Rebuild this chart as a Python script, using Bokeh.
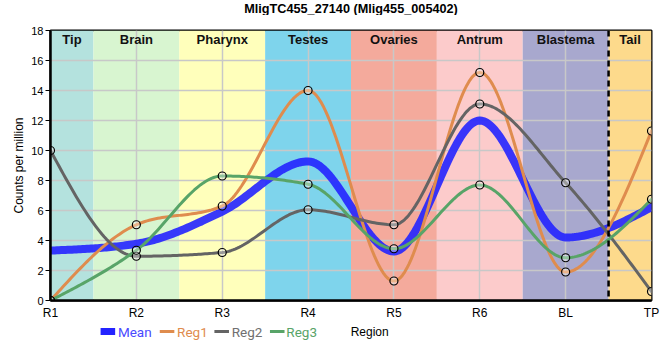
import numpy as np
from bokeh.plotting import figure
from bokeh.layouts import column
from bokeh.models import FixedTicker, Span, Range1d
from bokeh.core.properties import value
from bokeh.embed import file_html
from bokeh.resources import INLINE

# ---- data ----
title_text = "MligTC455_27140 (Mlig455_005402)"
regions = ["R1", "R2", "R3", "R4", "R5", "R6", "BL", "TP"]
mean_vals = [3.33, 3.78, 5.93, 9.27, 3.27, 12.0, 4.2, 6.22]
reg1 = [0.0, 5.05, 6.3, 14.0, 1.3, 15.2, 1.9, 11.3]
reg2 = [10.0, 2.95, 3.2, 6.05, 5.05, 13.1, 7.85, 0.6]
reg3 = [0.0, 3.35, 8.3, 7.75, 3.45, 7.7, 2.85, 6.75]
y_ticks = [0, 2, 4, 6, 8, 10, 12, 14, 16, 18]

band_names = ["Tip", "Brain", "Pharynx", "Testes", "Ovaries", "Antrum", "Blastema", "Tail"]
band_left = [0, 0.5, 1.5, 2.5, 3.5, 4.5, 5.5, 6.5]
band_right = [0.5, 1.5, 2.5, 3.5, 4.5, 5.5, 6.5, 7]
band_colors = ["#b4e2de", "#d8f5d0", "#ffffbb", "#7ed4ec", "#f4aa9c", "#fccbcb", "#a8a8ce", "#fdda8c"]
divider_x = 6.5

series_names = ["Mean", "Reg1", "Reg2", "Reg3"]
series_colors = ["#2323ff", "#df8c4e", "#646464", "#58a468"]
series_widths = [8, 3, 3, 3]
label_colors = ["#4a4aff", "#df8c4e", "#707070", "#58a468"]

X_MIN, X_MAX, Y_MIN, Y_MAX = 0, 7, 0, 18

# strip layout (pixels)
W, H_TITLE, H_MAIN, H_LEG = 660, 15, 307, 38
title_x, title_y = 330, 8
leg_glyph_x0 = [55, 120, 180, 241]
leg_glyph_x1 = [71, 136, 196, 257]
leg_text_x = [74, 139, 199, 259]
leg_glyph_w = [7, 3, 3, 3]
leg_row_y = 9
region_label_x = 350.5


def monotone_curve(xs, ys, n=40):
    xs = np.asarray(xs, float)
    ys = np.asarray(ys, float)
    m = len(xs)
    h = np.diff(xs)
    s = np.diff(ys) / h
    t = np.zeros(m)
    sgn = lambda v: -1.0 if v < 0 else 1.0
    for i in range(1, m - 1):
        s0, s1 = s[i - 1], s[i]
        p_ = (s0 * h[i] + s1 * h[i - 1]) / (h[i - 1] + h[i])
        t[i] = (sgn(s0) + sgn(s1)) * min(abs(s0), abs(s1), 0.5 * abs(p_))
    t[0] = (3 * s[0] - t[1]) / 2
    t[-1] = (3 * s[-1] - t[-2]) / 2
    ox, oy = [], []
    for i in range(m - 1):
        u = np.linspace(0, 1, n, endpoint=(i == m - 2))
        hh = h[i]
        h00 = 2 * u**3 - 3 * u**2 + 1
        h10 = u**3 - 2 * u**2 + u
        h01 = -2 * u**3 + 3 * u**2
        h11 = u**3 - u**2
        ox.extend(xs[i] + u * hh)
        oy.extend(h00 * ys[i] + h10 * hh * t[i] + h01 * ys[i + 1] + h11 * hh * t[i + 1])
    return ox, oy


def strip(height):
    f = figure(width=W, height=height, x_range=Range1d(0, W), y_range=Range1d(height, 0),
               output_backend="svg", toolbar_location=None, x_axis_type=None, y_axis_type=None,
               min_border=0)
    f.outline_line_color = None
    f.grid.visible = False
    return f


# title strip
t = strip(H_TITLE)
t.text(x=[title_x], y=[title_y], text=[title_text], text_color="black",
       text_font=value("Liberation Sans"), text_font_size="12.7px", text_font_style="bold",
       text_baseline="middle", text_align="center")

p = figure(width=W, height=H_MAIN, x_range=Range1d(X_MIN, X_MAX), y_range=Range1d(Y_MIN, Y_MAX),
           output_backend="svg", toolbar_location=None,
           min_border_left=50, min_border_right=9, min_border_top=15, min_border_bottom=22)

p.outline_line_color = "black"
p.outline_line_width = 2
p.outline_line_alpha = 1

# bands
band_centers = [(a + b) / 2 for a, b in zip(band_left, band_right)]
p.quad(left=band_left, right=band_right, bottom=Y_MIN, top=Y_MAX,
       fill_color=band_colors, line_color=None, level="image")
p.text(x=band_centers, y=[Y_MAX] * len(band_names), text=band_names,
       text_font=value("Liberation Sans"), text_font_size="13px", text_font_style="bold",
       text_align="center", text_baseline="middle", y_offset=9, text_color="#111111")

p.add_layout(Span(location=divider_x, dimension="height", line_color="black",
                  line_width=2.5, line_dash="6 4"))

# curves
x_idx = list(range(len(regions)))
for name, vals, col, lw in zip(series_names, [mean_vals, reg1, reg2, reg3], series_colors, series_widths):
    cx, cy = monotone_curve(x_idx, vals)
    p.line(cx, cy, line_color=col, line_width=lw, line_alpha=0.9 if name == "Mean" else 1.0,
           line_cap="round", line_join="round")

for vals in [reg1, reg2, reg3]:
    p.scatter(x_idx, vals, size=8, marker="circle", line_color="black", line_width=1.2,
              fill_color="white", fill_alpha=0.35)

# axes
p.xaxis.ticker = FixedTicker(ticks=x_idx)
p.xaxis.major_label_overrides = {i: r for i, r in enumerate(regions)}
p.xgrid.ticker = FixedTicker(ticks=x_idx)
p.yaxis.ticker = FixedTicker(ticks=y_ticks)
p.ygrid.ticker = FixedTicker(ticks=y_ticks)
p.xaxis.minor_tick_line_color = None
p.yaxis.minor_tick_line_color = None
p.xaxis.major_tick_out = 0
p.xaxis.major_tick_in = 0
p.yaxis.major_tick_out = 5
p.yaxis.major_tick_in = 0
for ax in (p.xaxis, p.yaxis):
    ax.axis_line_width = 2.5
    ax.axis_line_color = "black"
    ax.major_tick_line_color = "black"
    ax.major_label_text_font = "Liberation Sans"
    ax.major_label_text_color = "black"
    ax.axis_label_text_font = "Liberation Sans"
    ax.axis_label_text_font_style = "normal"
    ax.axis_label_text_font_size = "12px"
    ax.axis_label_text_color = "black"
p.xaxis.major_label_text_font_size = "12px"
p.yaxis.major_label_text_font_size = "11px"
p.xaxis.major_label_standoff = 5
p.yaxis.major_label_standoff = 2
p.yaxis.axis_label = "Counts per million"
p.yaxis.axis_label_standoff = 2

p.grid.grid_line_color = "#c8c8c8"
p.grid.grid_line_width = 1.5

# legend strip + x-axis title
q = strip(H_LEG)
q.segment(x0=leg_glyph_x0, y0=[leg_row_y] * 4, x1=leg_glyph_x1, y1=[leg_row_y] * 4,
          line_color=series_colors, line_width=leg_glyph_w)
q.text(x=leg_text_x, y=[leg_row_y] * 4, text=series_names, text_color=label_colors,
       text_font=value("Roboto"), text_font_size="13.5px", text_baseline="middle", text_align="left")
q.text(x=[region_label_x], y=[leg_row_y], text=["Region"], text_color="black",
       text_font=value("Liberation Sans"), text_font_size="12px", text_baseline="middle",
       text_align="center")

layout = column(t, p, q, spacing=0)
open("out.html", "w").write(file_html(layout, INLINE))
